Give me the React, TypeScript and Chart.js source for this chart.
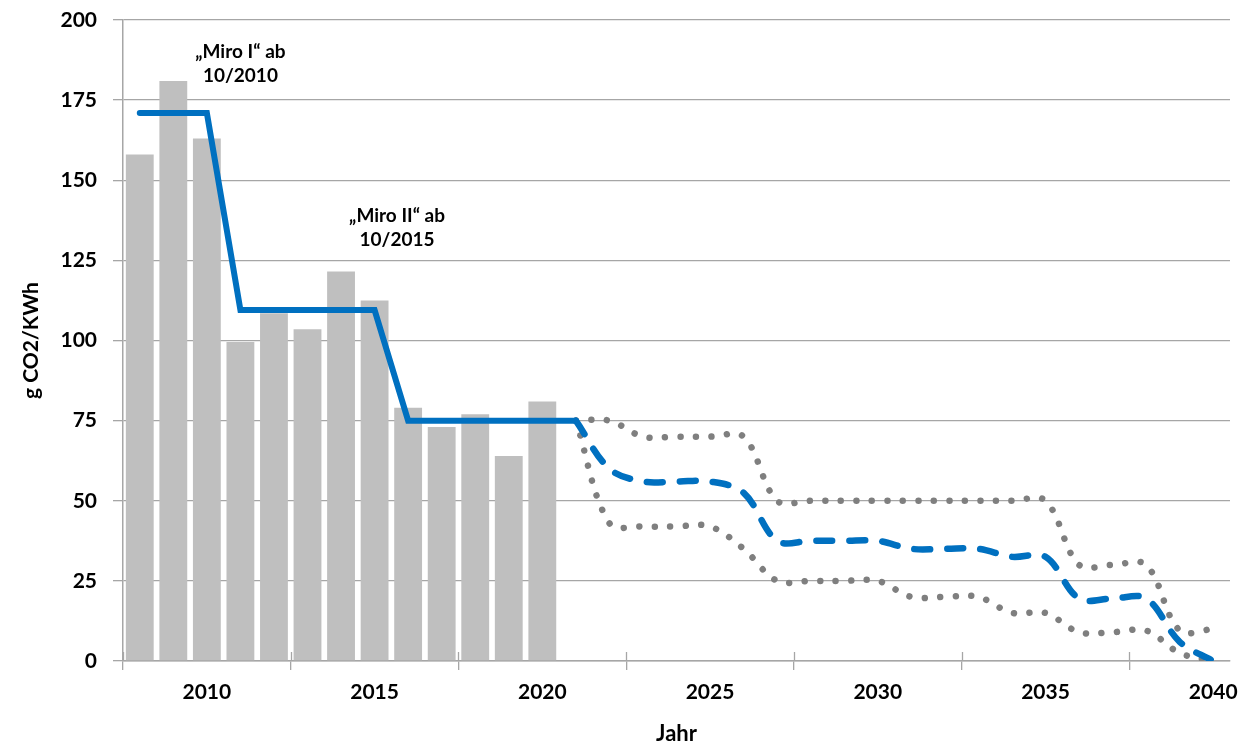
import React, { useEffect, useRef } from 'react';
import { Chart, registerables } from 'chart.js';

Chart.register(...registerables);

// ---- Data ----
const YEARS = [
  2008, 2009, 2010, 2011, 2012, 2013, 2014, 2015, 2016, 2017, 2018,
  2019, 2020, 2021, 2022, 2023, 2024, 2025, 2026, 2027, 2028, 2029,
  2030, 2031, 2032, 2033, 2034, 2035, 2036, 2037, 2038, 2039, 2040,
];

// measured values 2008-2020 (bars)
const MEASURED = [158, 181, 163, 99.5, 108.5, 103.5, 121.5, 112.5, 79, 73, 77, 64, 81];

// blue solid line, 2008-2021
const ACTUAL_LINE = [171, 171, 171, 109.5, 109.5, 109.5, 109.5, 109.5, 75, 75, 75, 75, 75, 75];

// forecast 2021-2040
const FORECAST = [75, 60, 56, 56, 56, 52.5, 37.5, 37.5, 37.5, 37.5, 35, 35, 35, 32.5, 32.5, 19.5, 19.5, 19.5, 6, 0];
const UPPER = [75, 75, 70, 70, 70, 70, 50, 50, 50, 50, 50, 50, 50, 50, 50, 30, 30, 30, 9.5, 10];
const LOWER = [75, 43, 42, 42, 42, 35, 25, 25, 25, 25, 20, 20, 20, 15, 15, 9, 9, 9.5, 2.5, 0];

const Y_TICK_STEP = 25;

const ANNOTATIONS = [
  { lines: ['\u201EMiro I\u201C ab', '10/2010'], year: 2011, values: [190, 182.6] },
  { lines: ['\u201EMiro II\u201C ab', '10/2015'], year: 2015.67, values: [139, 131.4] },
];

// ---- Style ----
const GRID = '#a6a6a6';
const BLUE = '#0070c0';
const DOT = '#7f7f7f';
const BAR = '#bfbfbf';
const FONT = 'Lato';

const padTo = (arr: (number | null)[], before: number) => {
  const out: (number | null)[] = [];
  for (let i = 0; i < before; i++) out.push(null);
  for (const v of arr) out.push(v);
  while (out.length < YEARS.length) out.push(null);
  return out;
};

const forecastStart = YEARS.indexOf(2021);

const overlayPlugin = {
  id: 'overlay',
  afterDatasetsDraw(chart: any) {
    const ctx = chart.ctx as CanvasRenderingContext2D;
    const x = chart.scales.x;
    const y = chart.scales.y;
    const bottom = chart.chartArea.bottom;
    const step = x.getPixelForValue(1) - x.getPixelForValue(0);
    ctx.save();
    // inner part of crossing tick marks
    ctx.strokeStyle = GRID;
    ctx.lineWidth = 1.3;
    for (let i = 0; i <= YEARS.length; i += 5) {
      const px = Math.round(x.getPixelForValue(0) + (i - 0.5) * step) + 0.5;
      ctx.beginPath();
      ctx.moveTo(px, bottom - 9);
      ctx.lineTo(px, bottom);
      ctx.stroke();
    }
    // annotations
    ctx.fillStyle = '#000';
    ctx.font = `bold 19px ${FONT}`;
    ctx.textAlign = 'center';
    ctx.textBaseline = 'middle';
    for (const a of ANNOTATIONS) {
      const idx = a.year - YEARS[0];
      const px = x.getPixelForValue(0) + idx * step;
      a.lines.forEach((t, k) => {
        ctx.fillText(t, px, y.getPixelForValue(a.values[k]));
      });
    }
    ctx.restore();
  },
};

export default function App() {
  const ref = useRef<HTMLCanvasElement | null>(null);

  useEffect(() => {
    if (!ref.current) return;
    const chart = new Chart(ref.current, {
      type: 'bar',
      data: {
        labels: YEARS.map(String),
        datasets: [
          {
            type: 'bar',
            label: 'Gemessen',
            data: padTo(MEASURED, 0),
            backgroundColor: BAR,
            barPercentage: 0.83,
            categoryPercentage: 1,
            order: 10,
          } as any,
          {
            type: 'line',
            label: 'Ist',
            data: padTo(ACTUAL_LINE, 0),
            borderColor: BLUE,
            borderWidth: 6,
            tension: 0,
            pointRadius: 0,
            borderCapStyle: 'round',
            borderJoinStyle: 'miter',
            order: 0,
          } as any,
          {
            type: 'line',
            label: 'Prognose',
            data: padTo(FORECAST, forecastStart),
            borderColor: BLUE,
            borderWidth: 6.5,
            borderDash: [16, 17],
            borderCapStyle: 'round',
            tension: 0.35,
            pointRadius: 0,
            order: 0,
          } as any,
          {
            type: 'line',
            label: 'Obergrenze',
            data: padTo(UPPER, forecastStart),
            borderColor: DOT,
            borderWidth: 6.5,
            borderDash: [0.01, 15.5],
            borderCapStyle: 'round',
            tension: 0.35,
            pointRadius: 0,
            order: 1,
          } as any,
          {
            type: 'line',
            label: 'Untergrenze',
            data: padTo(LOWER, forecastStart),
            borderColor: DOT,
            borderWidth: 6.5,
            borderDash: [0.01, 15.5],
            borderCapStyle: 'round',
            tension: 0.35,
            pointRadius: 0,
            order: 1,
          } as any,
        ],
      },
      options: {
        responsive: false,
        animation: false,
        devicePixelRatio: 1,
        layout: { padding: { top: 20, right: 16, left: 0, bottom: 0 } },
        plugins: {
          legend: { display: false },
          tooltip: { enabled: false },
        },
        scales: {
          x: {
            offset: true,
            grid: {
              offset: true,
              drawOnChartArea: false,
              drawTicks: true,
              tickLength: 9,
              lineWidth: 1.3,
              color: (c: any) => (c.index % 5 === 0 ? GRID : 'rgba(0,0,0,0)'),
            },
            border: { display: true, color: GRID, width: 1.5 },
            ticks: {
              autoSkip: false,
              maxRotation: 0,
              minRotation: 0,
              padding: 10,
              color: '#000',
              font: { family: FONT, weight: 'bold', size: 21 },
              callback: (_v: any, i: number) => (YEARS[i] % 5 === 0 ? String(YEARS[i]) : ''),
            },
            title: {
              display: true,
              text: 'Jahr',
              color: '#000',
              font: { family: FONT, weight: 'bold', size: 22 },
              padding: { top: 0, bottom: 0 },
            },
            afterFit: (s: any) => {
              s.height = 86;
              s.paddingLeft = 0;
              s.paddingRight = 0;
            },
          },
          y: {
            min: 0,
            max: 200,
            ticks: {
              stepSize: Y_TICK_STEP,
              padding: 16,
              color: '#000',
              font: { family: FONT, weight: 'bold', size: 21 },
            },
            grid: { color: GRID, lineWidth: 1.3, tickLength: 10 },
            border: { display: true, color: GRID, width: 1.5 },
            title: {
              display: true,
              text: 'g CO2/KWh',
              color: '#000',
              font: { family: FONT, weight: 'bold', size: 21 },
              padding: { top: 19, bottom: 0 },
            },
            afterFit: (s: any) => {
              s.width = 123;
              s.paddingTop = 0;
              s.paddingBottom = 0;
            },
          },
        },
      } as any,
      plugins: [overlayPlugin],
    });
    return () => chart.destroy();
  }, []);

  return (
    <div style={{ position: 'fixed', left: 0, top: 0, width: 1246, height: 747, background: '#fff' }}>
      <canvas ref={ref} width={1246} height={747} style={{ display: 'block' }} />
    </div>
  );
}
